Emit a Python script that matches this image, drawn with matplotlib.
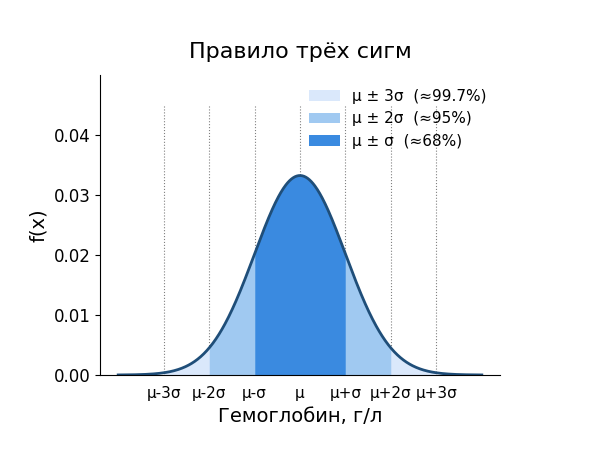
import matplotlib
matplotlib.use("Agg")
import matplotlib.pyplot as plt
import numpy as np

MU, SIGMA = 140, 12                     # hemoglobin, g/l
bands = [3, 2, 1]
band_labels = ["μ ± 3σ  (≈99.7%)", "μ ± 2σ  (≈95%)", "μ ± σ  (≈68%)"]
band_colors = ["#dae8fb", "#a0c9f1", "#3a8ae0"]
tick_k = [-3, -2, -1, 0, 1, 2, 3]
tick_labels = ["μ-3σ", "μ-2σ", "μ-σ", "μ", "μ+σ", "μ+2σ", "μ+3σ"]


def pdf(x):
    return np.exp(-0.5 * ((x - MU) / SIGMA) ** 2) / (SIGMA * np.sqrt(2 * np.pi))


x = np.linspace(MU - 4 * SIGMA, MU + 4 * SIGMA, 600)
y = pdf(x)

fig, ax = plt.subplots(figsize=(6, 4.5), dpi=100)
fig.subplots_adjust(left=1/6, right=5/6, bottom=1/6, top=5/6)

# dotted guides sit behind the shaded bands
for k in tick_k:
    ax.vlines(MU + k * SIGMA, 0, 0.045, colors="gray", linestyles=":", lw=0.8, zorder=0)

for k, lab, col in zip(bands, band_labels, band_colors):
    m = (x >= MU - k * SIGMA) & (x <= MU + k * SIGMA)
    ax.fill_between(x[m], 0, y[m], color=col, label=lab, linewidth=0, zorder=1)

ax.plot(x, y, color="#1f4e79", lw=2, zorder=2)

ax.set_ylim(0, 0.05)
ax.set_yticks([0, 0.01, 0.02, 0.03, 0.04])
ax.set_xticks([MU + k * SIGMA for k in tick_k])
ax.set_xticklabels(tick_labels)
ax.tick_params(axis="x", length=0, labelsize=11, pad=8)
ax.tick_params(axis="y", labelsize=12)
ax.spines["top"].set_visible(False)
ax.spines["right"].set_visible(False)

ax.set_title("Правило трёх сигм", fontsize=16, pad=12)
ax.set_xlabel("Гемоглобин, г/л", fontsize=14)
ax.set_ylabel("f(x)", fontsize=14)
ax.legend(loc="upper right", frameon=False, fontsize=11)

fig.savefig("out.png", dpi=100)
plt.close(fig)
